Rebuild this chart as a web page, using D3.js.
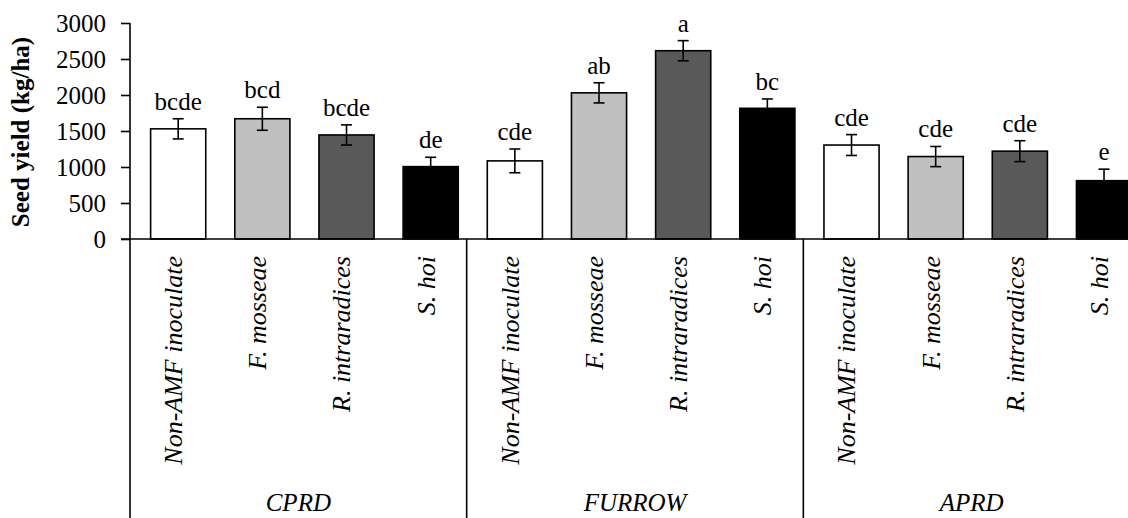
<!DOCTYPE html>
<html>
<head>
<meta charset="utf-8">
<script src="https://cdn.jsdelivr.net/npm/d3@7"></script>
<style>
  html, body { margin: 0; padding: 0; background: #ffffff; }
  svg { display: block; font-family: "Liberation Serif", "Times New Roman", serif; }
</style>
</head>
<body>
<svg id="chart" width="1128" height="518"></svg>
<script>
// ---- data ----
const groups = ["CPRD", "FURROW", "APRD"];
const treatments = ["Non-AMF inoculate", "F. mosseae", "R. intraradices", "S. hoi"];
const treatmentFills = ["#ffffff", "#c0c0c0", "#595959", "#000000"];
const cprdValues   = [1530, 1670, 1445, 1005];
const furrowValues = [1085, 2030, 2615, 1815];
const aprdValues   = [1305, 1145, 1220, 810];
const cprdErrors   = [140, 160, 140, 130];
const furrowErrors = [165, 140, 140, 130];
const aprdErrors   = [145, 140, 145, 160];
const cprdLetters   = ["bcde", "bcd", "bcde", "de"];
const furrowLetters = ["cde", "ab", "a", "bc"];
const aprdLetters   = ["cde", "cde", "cde", "e"];
const yTicks = [0, 500, 1000, 1500, 2000, 2500, 3000];
const yTitle = "Seed yield (kg/ha)";

const valuesByGroup = [cprdValues, furrowValues, aprdValues];
const errorsByGroup = [cprdErrors, furrowErrors, aprdErrors];
const lettersByGroup = [cprdLetters, furrowLetters, aprdLetters];

const rows = [];
groups.forEach((g, gi) => {
  treatments.forEach((t, ti) => {
    rows.push({
      key: g + "|" + t, group: g, gi, treatment: t, ti,
      value: valuesByGroup[gi][ti],
      err: errorsByGroup[gi][ti],
      letter: lettersByGroup[gi][ti],
      fill: treatmentFills[ti]
    });
  });
});

// ---- layout ----
const svg = d3.select("#chart");
const x0 = 130, xEnd = 1140, yTop = 23, yBase = 239, H = 518;

const x = d3.scaleBand().domain(rows.map(d => d.key)).range([x0, xEnd]).padding(0);
const step = x.step();
const y = d3.scaleLinear().domain([0, 3000]).range([yBase, yTop]);

const barOff = step * 0.245, barW = step * 0.655;
const fontSize = 25;

// y axis
const yAxis = d3.axisLeft(y).tickValues(yTicks).tickSize(9).tickPadding(15).tickFormat(d3.format("d"));
const yg = svg.append("g").attr("transform", `translate(${x0},0)`).call(yAxis);
yg.select(".domain").remove();
yg.selectAll(".tick line").attr("stroke", "#000").attr("stroke-width", 1.6);
yg.selectAll(".tick text").attr("fill", "#000").style("font-size", fontSize + "px")
  .style("font-family", '"Liberation Serif", "Times New Roman", serif');

// y axis line extends to bottom
svg.append("line").attr("x1", x0).attr("x2", x0).attr("y1", yTop).attr("y2", H)
  .attr("stroke", "#000").attr("stroke-width", 1.6);

// y title
svg.append("text")
  .attr("transform", `translate(29,${(yTop + yBase) / 2 + 1}) rotate(-90)`)
  .attr("text-anchor", "middle")
  .style("font-size", fontSize + "px").style("font-weight", "bold")
  .text(yTitle);

// bars
svg.append("g").selectAll("rect").data(rows).join("rect")
  .attr("x", d => x(d.key) + barOff)
  .attr("width", barW)
  .attr("y", d => y(d.value))
  .attr("height", d => yBase - y(d.value))
  .attr("fill", d => d.fill)
  .attr("stroke", "#000").attr("stroke-width", 1.6);

// error bars
const eg = svg.append("g").attr("stroke", "#000").attr("stroke-width", 1.6);
rows.forEach(d => {
  const cx = x(d.key) + barOff + barW / 2;
  const col = d.fill === "#000000" ? "#000" : "#000";
  eg.append("line").attr("x1", cx).attr("x2", cx).attr("y1", y(d.value + d.err)).attr("y2", y(d.value - d.err));
  eg.append("line").attr("x1", cx - 5.5).attr("x2", cx + 5.5).attr("y1", y(d.value + d.err)).attr("y2", y(d.value + d.err));
  eg.append("line").attr("x1", cx - 5.5).attr("x2", cx + 5.5).attr("y1", y(d.value - d.err)).attr("y2", y(d.value - d.err));
});

// letters
svg.append("g").selectAll("text").data(rows).join("text")
  .attr("x", d => x(d.key) + barOff + barW / 2)
  .attr("y", d => y(d.value + d.err) - 9)
  .attr("text-anchor", "middle")
  .style("font-size", fontSize + "px")
  .text(d => d.letter);

// x axis baseline
svg.append("line").attr("x1", x0 - 9).attr("x2", 1128).attr("y1", yBase).attr("y2", yBase)
  .attr("stroke", "#000").attr("stroke-width", 1.6);

// group dividers
groups.forEach((g, gi) => {
  if (gi === 0) return;
  const gx = x(g + "|" + treatments[0]);
  svg.append("line").attr("x1", gx).attr("x2", gx).attr("y1", yBase).attr("y2", H)
    .attr("stroke", "#000").attr("stroke-width", 1.6);
});

// category labels (rotated)
svg.append("g").selectAll("text").data(rows).join("text")
  .attr("transform", d => `translate(${x(d.key) + step / 2 + 10},256) rotate(-90)`)
  .attr("text-anchor", "end")
  .style("font-size", "26px").style("font-style", "italic")
  .text(d => d.treatment);

// group labels
svg.append("g").selectAll("text").data(groups).join("text")
  .attr("x", g => x(g + "|" + treatments[0]) + step * 2)
  .attr("y", 511)
  .attr("text-anchor", "middle")
  .style("font-size", fontSize + "px").style("font-style", "italic")
  .text(g => g);
</script>
</body>
</html>
